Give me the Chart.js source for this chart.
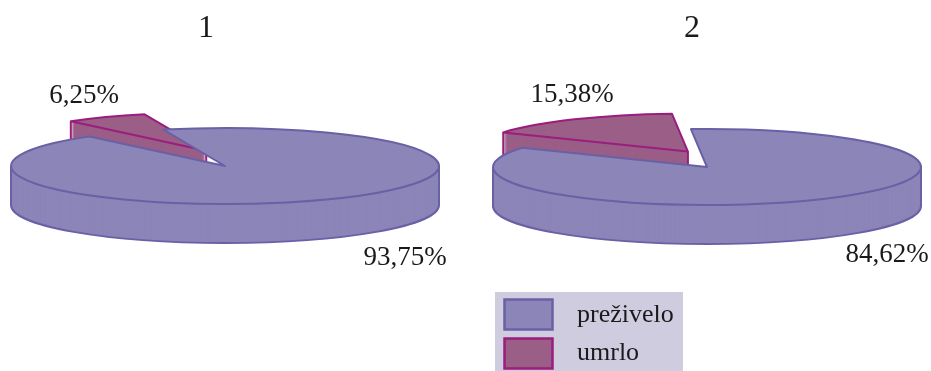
<!DOCTYPE html>
<html><head><meta charset="utf-8">
<script src="https://cdn.jsdelivr.net/npm/chart.js@4.4.0/dist/chart.umd.min.js"></script>
<style>
html,body{margin:0;padding:0;background:#fff;width:931px;height:371px;overflow:hidden;}
.box{position:absolute;top:0;height:371px;}
#b1{left:0;width:450px;}
#b2{left:483px;width:448px;}
</style></head><body>
<div class="box" id="b1"><canvas id="c1"></canvas></div>
<div class="box" id="b2"><canvas id="c2"></canvas></div>
<script>
const categories = ['preživelo', 'umrlo'];
const chartTitles = ['1', '2'];
const values1 = [93.75, 6.25];
const values2 = [84.62, 15.38];
const percentLabels1 = ['93,75%', '6,25%'];
const percentLabels2 = ['84,62%', '15,38%'];
const fillColors = ['#8C85B8', '#9A5E87'];
const edgeColors = ['#6A60A6', '#9B1D7E'];

const pie3d = {
  id: 'pie3d',
  beforeDatasetsDraw(chart, args, o) {
    const ctx = chart.ctx;
    const arcs = chart.getDatasetMeta(0).data;
    const ds = chart.data.datasets[0];
    const k = o.squash, D = o.depth;
    const big = arcs[0], small = arcs[1];
    const R = big.outerRadius;
    const path = (arc, dx, dy) => {
      ctx.beginPath();
      ctx.save();
      ctx.translate(arc.x + dx, arc.y + dy);
      ctx.scale(1, k);
      ctx.moveTo(0, 0);
      ctx.arc(0, 0, arc.outerRadius, arc.startAngle, arc.endAngle);
      ctx.closePath();
      ctx.restore();
    };
    const rim = (arc, a, dx, dy) => [arc.x + dx + Math.cos(a) * arc.outerRadius, arc.y + dy + Math.sin(a) * arc.outerRadius * k];
    const vline = (p, len) => { ctx.beginPath(); ctx.moveTo(p[0], p[1]); ctx.lineTo(p[0], p[1] + len); ctx.stroke(); };
    ctx.save();
    ctx.lineJoin = 'round';
    ctx.lineWidth = o.lineWidth;
    // big slice side wall
    ctx.fillStyle = ds.backgroundColor[0];
    for (let d = D; d >= 1; d--) { path(big, 0, d); ctx.fill(); }
    ctx.strokeStyle = ds.borderColor[0];
    ctx.beginPath(); ctx.save(); ctx.translate(big.x, big.y + D); ctx.scale(1, k);
    ctx.arc(0, 0, R, 0, Math.PI); ctx.restore(); ctx.stroke();
    vline([big.x + R, big.y], D);
    vline([big.x - R, big.y], D);
    // clear the notch
    ctx.fillStyle = '#ffffff';
    path(small, 0, 0); ctx.fill();
    // exploded small slice
    const mid = (small.startAngle + small.endAngle) / 2;
    const dx = Math.cos(mid) * o.explode;
    const dy = Math.sin(mid) * o.explode * k - o.raise;
    ctx.strokeStyle = ds.borderColor[1];
    ctx.fillStyle = ds.backgroundColor[1];
    path(small, dx, dy + D); ctx.stroke();
    for (let d = D - 1; d >= 1; d--) { path(small, dx, dy + d); ctx.fill(); }
    vline(rim(small, small.startAngle, dx, dy), D);
    vline([small.x + dx, small.y + dy], D);
    path(small, dx, dy); ctx.fill(); ctx.stroke();
    // big slice top
    ctx.fillStyle = ds.backgroundColor[0];
    ctx.strokeStyle = ds.borderColor[0];
    path(big, 0, 0); ctx.fill(); ctx.stroke();
    ctx.restore();
    return false;
  }
};

const annot = {
  id: 'annot',
  afterDraw(chart, args, o) {
    const ctx = chart.ctx;
    const arc = chart.getDatasetMeta(0).data[0];
    const ds = chart.data.datasets[0];
    ctx.save();
    ctx.fillStyle = '#1a1a1a';
    ctx.textBaseline = 'alphabetic';
    ctx.textAlign = 'center';
    ctx.font = '32px "Liberation Serif"';
    ctx.fillText(o.title, arc.x + o.titleDx, o.titleY);
    ctx.font = '27px "Liberation Serif"';
    o.labels.forEach((t, i) => ctx.fillText(t, arc.x + o.labelPos[i][0], arc.y + o.labelPos[i][1]));
    if (o.legend) {
      const L = o.legend;
      ctx.fillStyle = '#CFCCE0';
      ctx.fillRect(L.x, L.y, L.w, L.h);
      ctx.lineWidth = 2.5;
      chart.data.labels.forEach((lab, i) => {
        const sy = L.y + 7.5 + i * 39;
        ctx.fillStyle = ds.backgroundColor[i];
        ctx.strokeStyle = ds.borderColor[i];
        ctx.beginPath();
        ctx.rect(L.x + 9.5, sy, 48, 30);
        ctx.fill(); ctx.stroke();
        ctx.fillStyle = '#1a1a1a';
        ctx.textAlign = 'left';
        ctx.font = '26px "Liberation Serif"';
        ctx.fillText(lab, L.x + 82, L.y + 30 + i * 38);
      });
    }
    ctx.restore();
  }
};

function makeChart(id, values, rotation, annotOpts, padBottom, explode, raise) {
  return new Chart(document.getElementById(id), {
    type: 'pie',
    data: {
      labels: categories,
      datasets: [{
        data: values,
        backgroundColor: fillColors,
        borderColor: edgeColors,
        borderWidth: 2
      }]
    },
    options: {
      responsive: true,
      maintainAspectRatio: false,
      animation: false,
      events: [],
      rotation: rotation,
      radius: 214,
      layout: { padding: { bottom: padBottom } },
      plugins: {
        legend: { display: false },
        tooltip: { enabled: false },
        pie3d: { squash: 38 / 214, depth: 39, lineWidth: 2, explode: explode, raise: raise },
        annot: annotOpts
      }
    },
    plugins: [pie3d, annot]
  });
}

makeChart('c1', values1, -16.75, {
  title: chartTitles[0], titleDx: -19, titleY: 37,
  labels: percentLabels1, labelPos: [[180, 99], [-141, -63]]
}, 39, 40, 9);

makeChart('c2', values2, -4.3, {
  title: chartTitles[1], titleDx: -15, titleY: 37,
  labels: percentLabels2, labelPos: [[180, 95], [-135, -65]],
  legend: { x: 12, y: 292, w: 188, h: 79 }
}, 37, 36, 10);
</script>
</body></html>
